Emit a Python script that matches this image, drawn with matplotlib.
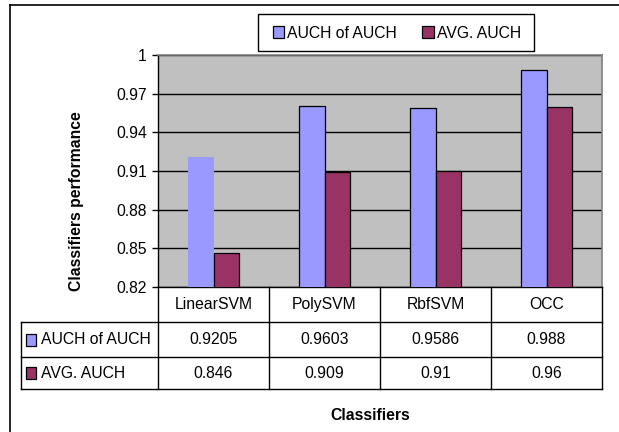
import matplotlib
matplotlib.use("Agg")
import matplotlib.pyplot as plt
import numpy as np
from matplotlib.patches import Patch, Rectangle
from matplotlib.lines import Line2D

plt.rcParams['font.family'] = ['Liberation Sans', 'DejaVu Sans']

categories = ["LinearSVM", "PolySVM", "RbfSVM", "OCC"]
series_names = ["AUCH of AUCH", "AVG. AUCH"]
auch_of_auch = [0.9205, 0.9603, 0.9586, 0.988]
avg_auch = [0.846, 0.909, 0.91, 0.96]
auch_labels = ["0.9205", "0.9603", "0.9586", "0.988"]
avg_labels = ["0.846", "0.909", "0.91", "0.96"]
yticks = [0.82, 0.85, 0.88, 0.91, 0.94, 0.97, 1.0]
ytick_labels = ["0.82", "0.85", "0.88", "0.91", "0.94", "0.97", "1"]

BLUE = "#9999FF"
MAROON = "#993366"
GRAY = "#C0C0C0"
FS = 11.3

W, H = 619, 432
fig = plt.figure(figsize=(W / 100, H / 100), dpi=100)

def fx(px):
    return px / W

def fy(py):
    return 1 - py / H

# main plot axes
L, R, T, B = 158, 602, 55, 287
ax = fig.add_axes([fx(L), fy(B), (R - L) / W, (B - T) / H])
ax.set_facecolor(GRAY)
x = np.arange(len(categories))
bw = 0.226
b1 = ax.bar(x - bw / 2, auch_of_auch, bw, color=BLUE, edgecolor="black", linewidth=0.9, zorder=3)
b1[0].set_linewidth(0)
b2 = ax.bar(x + bw / 2, avg_auch, bw, color=MAROON, edgecolor="black", linewidth=0.9, zorder=3)
ax.set_xlim(-0.5, len(categories) - 0.5)
ax.set_ylim(0.82, 1.0)
ax.set_yticks(yticks)
ax.set_yticklabels(ytick_labels, fontsize=FS)
ax.set_xticks([])
ax.yaxis.grid(True, color="black", linewidth=1.0, zorder=1)
ax.set_axisbelow(True)
ax.tick_params(axis="y", direction="out", length=4, width=1, color="black", pad=4)
for s in ["top", "right"]:
    ax.spines[s].set_color("#808080")
    ax.spines[s].set_linewidth(1.2)
for s in ["left", "bottom"]:
    ax.spines[s].set_color("black")
    ax.spines[s].set_linewidth(1.0)

# data table axes
TL, TB = 21, 389
colw = (R - L) / len(categories)
left_units = (L - TL) / colw
tax = fig.add_axes([fx(TL), fy(TB), (R - TL) / W, (TB - B) / H])
tax.set_xlim(-0.5 - left_units, len(categories) - 0.5)
tax.set_ylim(TB, B)
tax.axis("off")
row_lines = [B, 322, 357, TB]
lc = "black"
lw = 1.0
for i in range(len(categories) + 1):
    xv = i - 0.5
    tax.plot([xv, xv], [B, TB], color=lc, lw=lw, clip_on=False)
xl = -0.5 - left_units
tax.plot([xl, xl], [row_lines[1], TB], color=lc, lw=lw, clip_on=False)
for yv in row_lines[1:]:
    tax.plot([xl, len(categories) - 0.5], [yv, yv], color=lc, lw=lw, clip_on=False)

hc = (row_lines[0] + row_lines[1]) / 2
r1 = (row_lines[1] + row_lines[2]) / 2
r2 = (row_lines[2] + row_lines[3]) / 2
for i, c in enumerate(categories):
    tax.text(i, hc, c, ha="center", va="center", fontsize=FS)
    tax.text(i, r1, auch_labels[i], ha="center", va="center", fontsize=FS)
    tax.text(i, r2, avg_labels[i], ha="center", va="center", fontsize=FS)

msz = 10 / colw
for yc, col, name in [(r1, BLUE, series_names[0]), (r2, MAROON, series_names[1])]:
    mx = xl + 5 / colw
    tax.add_patch(Rectangle((mx, yc - 6), msz, 12, facecolor=col, edgecolor="black", lw=0.9, clip_on=False))
    tax.text(xl + 20 / colw, yc, name, ha="left", va="center", fontsize=FS)

# legend (frame drawn separately)
fig.add_artist(Rectangle((fx(258), fy(51)), 276 / W, 37 / H, transform=fig.transFigure,
                         facecolor="white", edgecolor="black", lw=1.0, zorder=4))
handles = [Patch(facecolor=BLUE, edgecolor="black", linewidth=0.9),
           Patch(facecolor=MAROON, edgecolor="black", linewidth=0.9)]
leg = fig.legend(handles, series_names, loc="center left", ncol=2,
                 bbox_to_anchor=(fx(273), fy(33)),
                 fontsize=FS, frameon=False, handlelength=0.72, handleheight=0.85,
                 handletextpad=0.2, borderaxespad=0, borderpad=0, columnspacing=1.6)
leg.set_zorder(5)

# axis titles
fig.text(fx(77), fy(201), "Classifiers performance", rotation=90, ha="center", va="center",
         fontsize=FS, fontweight="bold")
fig.text(fx(370), fy(415), "Classifiers", ha="center", va="center", fontsize=FS, fontweight="bold")

# outer border (top and left)
fig.add_artist(Line2D([fx(10), 1.0], [fy(5), fy(5)], color="black", lw=1.2))
fig.add_artist(Line2D([fx(10), fx(10)], [fy(5), 0.0], color="black", lw=1.2))

fig.savefig("out.png", dpi=100)
